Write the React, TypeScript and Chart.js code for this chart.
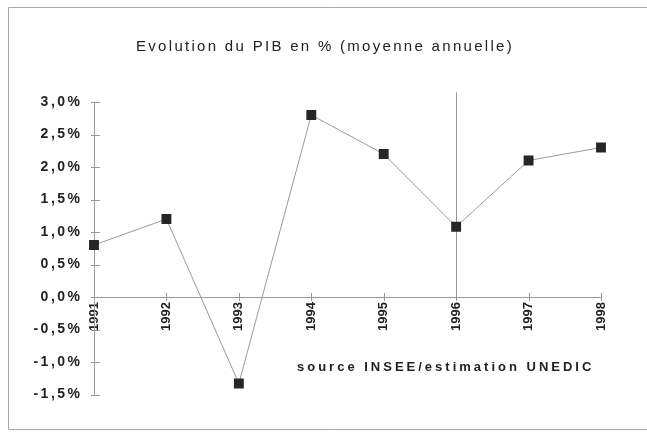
import React, { useEffect, useRef } from 'react';
import { Chart, registerables } from 'chart.js';

Chart.register(...registerables);

// ---- data ----
const years: string[] = ['1991', '1992', '1993', '1994', '1995', '1996', '1997', '1998'];
const pibGrowth: number[] = [0.8, 1.2, -1.33, 2.8, 2.2, 1.08, 2.1, 2.3];
const yMin = -1.5;
const yMax = 3.0;
const yStep = 0.5;
const titleText = 'Evolution du PIB en % (moyenne annuelle)';
const sourceText = 'source INSEE/estimation UNEDIC';
const markerYear = '1996';
const markerTop = 3.15;

const FONT = "Arial, 'Liberation Sans', sans-serif";
const fmt = (v: number) => v.toFixed(1).replace('.', ',') + '%';

const decor = {
  id: 'decor',
  afterLayout(chart: any) {
    const ys = chart.scales.y;
    if (ys && !ys.__patched) {
      const orig = ys.drawLabels.bind(ys);
      ys.drawLabels = (area: any) => {
        const c = ys.ctx;
        c.save();
        c.letterSpacing = '2.5px';
        orig(area);
        c.restore();
      };
      ys.__patched = true;
    }
  },
  beforeDraw(chart: any) {
    const ctx = chart.ctx;
    ctx.save();
    ctx.fillStyle = '#ffffff';
    ctx.fillRect(0, 0, chart.width, chart.height);
    ctx.strokeStyle = '#a8a8a8';
    ctx.lineWidth = 1;
    ctx.beginPath();
    ctx.moveTo(chart.width + 2, 7.5);
    ctx.lineTo(8.5, 7.5);
    ctx.lineTo(8.5, 429.5);
    ctx.lineTo(chart.width + 2, 429.5);
    ctx.stroke();

    // title
    ctx.letterSpacing = '2.3px';
    ctx.fillStyle = '#222222';
    ctx.font = `15px ${FONT}`;
    ctx.textAlign = 'left';
    ctx.textBaseline = 'middle';
    ctx.fillText(titleText, 136, 47);
    ctx.restore();
  },
  beforeDatasetsDraw(chart: any) {
    const ctx = chart.ctx;
    const xs = chart.scales.x;
    const ys = chart.scales.y;
    const y0 = ys.getPixelForValue(0);
    ctx.save();
    ctx.strokeStyle = '#999999';
    ctx.lineWidth = 1;
    ctx.beginPath();
    // y ticks crossing the axis
    ys.ticks.forEach((t: any) => {
      const py = Math.round(ys.getPixelForValue(t.value)) + 0.5;
      ctx.moveTo(xs.left - 3, py);
      ctx.lineTo(xs.left + 6, py);
    });
    // x ticks crossing the axis
    years.forEach((_, i) => {
      const px = Math.round(xs.getPixelForValue(i)) + 0.5;
      ctx.moveTo(px, y0 - 4);
      ctx.lineTo(px, y0 + 4);
    });
    // vertical marker line
    const mi = years.indexOf(markerYear);
    const mx = Math.round(xs.getPixelForValue(mi)) + 0.5;
    ctx.moveTo(mx, ys.getPixelForValue(markerTop));
    ctx.lineTo(mx, y0);
    ctx.stroke();

    // source note
    ctx.letterSpacing = '3px';
    ctx.fillStyle = '#222222';
    ctx.font = `bold 13px ${FONT}`;
    ctx.textAlign = 'left';
    ctx.textBaseline = 'middle';
    ctx.fillText(sourceText, 297, 367);
    ctx.restore();
  },
};

export default function App() {
  const ref = useRef<HTMLCanvasElement | null>(null);

  useEffect(() => {
    if (!ref.current) return;
    const chart = new Chart(ref.current, {
      type: 'line',
      data: {
        labels: years,
        datasets: [
          {
            data: pibGrowth,
            borderColor: '#9a9a9a',
            borderWidth: 1,
            pointStyle: 'rect',
            pointRadius: 7,
            pointBackgroundColor: '#262626',
            pointBorderColor: '#262626',
            pointBorderWidth: 0,
            tension: 0,
            fill: false,
          },
        ],
      },
      options: {
        responsive: false,
        devicePixelRatio: 1,
        animation: false,
        layout: { padding: { left: 0, right: 46, top: 102, bottom: 40.5 } },
        plugins: {
          legend: { display: false },
          tooltip: { enabled: false },
          title: { display: false },
        },
        scales: {
          x: {
            type: 'category',
            position: { y: 0 } as any,
            offset: false,
            grid: { display: false, drawTicks: false },
            border: { display: true, color: '#999999', width: 1 },
            ticks: {
              autoSkip: false,
              minRotation: 90,
              maxRotation: 90,
              padding: 5,
              color: '#222222',
              font: { family: FONT, size: 13, weight: 'bold' },
            },
          },
          y: {
            min: yMin,
            max: yMax,
            afterFit: (s: any) => {
              s.width = 94;
            },
            grid: { display: false, drawTicks: false },
            border: { display: true, color: '#999999', width: 1 },
            ticks: {
              stepSize: yStep,
              padding: 11.5,
              color: '#222222',
              font: { family: FONT, size: 14, weight: 'bold' },
              callback: (v: any) => fmt(Number(v)),
            },
          },
        },
      },
      plugins: [decor],
    });
    return () => chart.destroy();
  }, []);

  return (
    <div style={{ position: 'fixed', left: 0, top: 0, width: 647, height: 435, background: '#fff' }}>
      <canvas ref={ref} width={647} height={435} />
    </div>
  );
}
